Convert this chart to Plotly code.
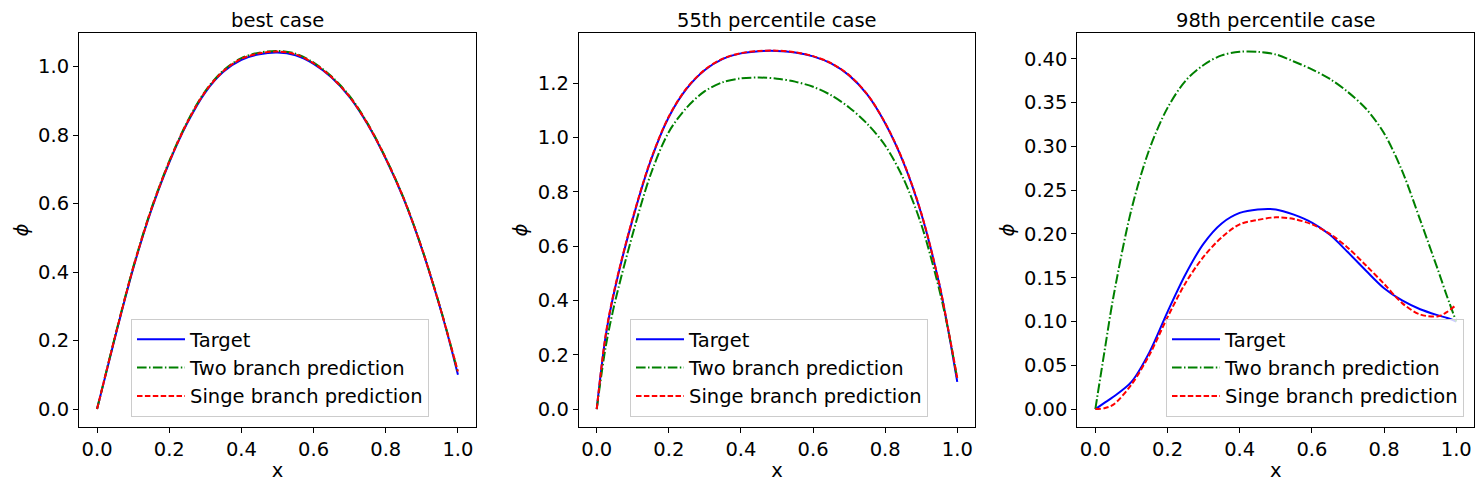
import plotly.graph_objects as go
from plotly.subplots import make_subplots

# shared x grid
x_vals = [0.0, 0.025, 0.05, 0.1, 0.15, 0.2, 0.25, 0.3, 0.35, 0.4, 0.45, 0.5,
          0.55, 0.6, 0.65, 0.7, 0.75, 0.8, 0.85, 0.9, 0.95, 0.975, 1.0]

# best case
best_target = [0.0, 0.105, 0.21, 0.41, 0.58, 0.72, 0.835, 0.925, 0.985, 1.02, 1.036, 1.041,
               1.033, 1.008, 0.968, 0.911, 0.831, 0.731, 0.613, 0.468, 0.298, 0.203, 0.10]
best_two = [0.0, 0.107, 0.213, 0.414, 0.584, 0.724, 0.839, 0.929, 0.989, 1.025, 1.041, 1.046,
            1.038, 1.012, 0.971, 0.914, 0.834, 0.733, 0.615, 0.470, 0.300, 0.206, 0.105]
best_single = [0.0, 0.106, 0.212, 0.412, 0.582, 0.722, 0.837, 0.927, 0.987, 1.023, 1.039, 1.044,
               1.036, 1.010, 0.969, 0.912, 0.832, 0.732, 0.614, 0.469, 0.299, 0.205, 0.11]

# 55th percentile case
p55_target = [0.0, 0.27, 0.44, 0.70, 0.915, 1.075, 1.18, 1.248, 1.289, 1.309, 1.317, 1.318,
              1.312, 1.298, 1.272, 1.228, 1.158, 1.052, 0.91, 0.72, 0.46, 0.29, 0.10]
p55_two = [0.0, 0.23, 0.39, 0.645, 0.865, 1.02, 1.11, 1.17, 1.203, 1.217, 1.22, 1.216,
           1.205, 1.186, 1.155, 1.11, 1.05, 0.97, 0.85, 0.68, 0.44, 0.29, 0.11]
p55_single = [0.0, 0.275, 0.445, 0.704, 0.918, 1.077, 1.182, 1.249, 1.29, 1.31, 1.318, 1.319,
              1.313, 1.299, 1.273, 1.229, 1.159, 1.053, 0.912, 0.722, 0.462, 0.293, 0.115]

# 98th percentile case
p98_target = [0.0, 0.007, 0.014, 0.031, 0.065, 0.111, 0.154, 0.189, 0.212, 0.224, 0.228, 0.228,
              0.222, 0.213, 0.199, 0.179, 0.158, 0.138, 0.124, 0.114, 0.107, 0.104, 0.100]
p98_two = [0.0, 0.065, 0.128, 0.228, 0.297, 0.344, 0.375, 0.393, 0.404, 0.408, 0.408, 0.405,
           0.397, 0.388, 0.377, 0.362, 0.343, 0.315, 0.272, 0.216, 0.158, 0.128, 0.10]
p98_single = [0.0, 0.001, 0.005, 0.028, 0.062, 0.105, 0.144, 0.174, 0.196, 0.211, 0.216, 0.219,
              0.217, 0.211, 0.200, 0.184, 0.164, 0.143, 0.121, 0.108, 0.106, 0.111, 0.119]

titles = ["best case", "55th percentile case", "98th percentile case"]
names = ["Target", "Two branch prediction", "Singe branch prediction"]
panels = [
    (best_target, best_two, best_single),
    (p55_target, p55_two, p55_single),
    (p98_target, p98_two, p98_single),
]

# page body has an 8px margin, so the figure is 16px smaller than the window
PAD = 8
W, H = 1483 - 2 * PAD, 490 - 2 * PAD
FONT = "DejaVu Sans"
FS = 19.5


def fx(px):
    return (px - PAD) / W


def fy(py):
    return 1 - (py - PAD) / H


# axes boxes in window pixels (left, right), shared top/bottom
boxes = [(79, 476), (578.7, 975.3), (1077.3, 1474.3)]
top_px, bottom_px = 33, 427
legend_right = [429, 928, 1464]
legend_bottom = 417
y_ranges = [[-0.0523, 1.0983], [-0.066, 1.384], [-0.0205, 0.4295]]
y_dticks = [0.2, 0.2, 0.05]
y_formats = [".1f", ".1f", ".2f"]

styles = [
    dict(color="#0000ff", width=2, dash="solid"),
    dict(color="#008000", width=2, dash="9.6px,2.4px,1.5px,2.4px"),
    dict(color="#ff0000", width=2, dash="5.5px,2.4px"),
]

fig = make_subplots(rows=1, cols=3)

for i, series in enumerate(panels):
    leg = "legend" if i == 0 else f"legend{i + 1}"
    for name, ys, st in zip(names, series, styles):
        fig.add_trace(
            go.Scatter(x=x_vals, y=ys, mode="lines", name=name,
                       line=dict(shape="spline", smoothing=0.9, **st),
                       legend=leg),
            row=1, col=i + 1,
        )

annotations = []
for i in range(3):
    l, r = boxes[i]
    xdom = [fx(l), fx(r)]
    ydom = [fy(bottom_px), fy(top_px)]
    axis_common = dict(
        showline=True, linecolor="black", linewidth=1, mirror=True,
        ticks="outside", ticklen=5, tickwidth=1, tickcolor="black",
        showgrid=False, zeroline=False,
        tickfont=dict(family=FONT, size=FS, color="black"),
    )
    fig.update_xaxes(domain=xdom, range=[-0.05, 1.05], dtick=0.2, tick0=0,
                     tickformat=".1f",
                     title=dict(text="x", font=dict(family=FONT, size=FS, color="black"),
                                standoff=4),
                     row=1, col=i + 1, **axis_common)
    fig.update_yaxes(domain=ydom, range=y_ranges[i], dtick=y_dticks[i], tick0=0,
                     tickformat=y_formats[i],
                     title=dict(text="<i>ϕ</i>", font=dict(family=FONT, size=FS, color="black"),
                                standoff=4),
                     row=1, col=i + 1, **axis_common)
    annotations.append(dict(
        text=titles[i], x=(xdom[0] + xdom[1]) / 2, y=ydom[1],
        xref="paper", yref="paper", xanchor="center", yanchor="bottom",
        yshift=0, borderpad=0, showarrow=False,
        font=dict(family=FONT, size=FS, color="black"),
    ))

legend_style = dict(
    xanchor="right", yanchor="bottom",
    bgcolor="rgba(255,255,255,0.8)", bordercolor="#cccccc", borderwidth=1,
    font=dict(family=FONT, size=FS, color="black"),
    tracegroupgap=0, itemwidth=48,
)
legends = {}
for i in range(3):
    key = "legend" if i == 0 else f"legend{i + 1}"
    legends[key] = dict(x=fx(legend_right[i]), y=fy(legend_bottom), **legend_style)

fig.update_layout(
    width=W, height=H,
    margin=dict(l=0, r=0, t=0, b=0),
    paper_bgcolor="white", plot_bgcolor="white",
    font=dict(family=FONT, size=FS, color="black"),
    annotations=annotations,
    showlegend=True,
    **legends,
)

fig.write_html("out.html")
